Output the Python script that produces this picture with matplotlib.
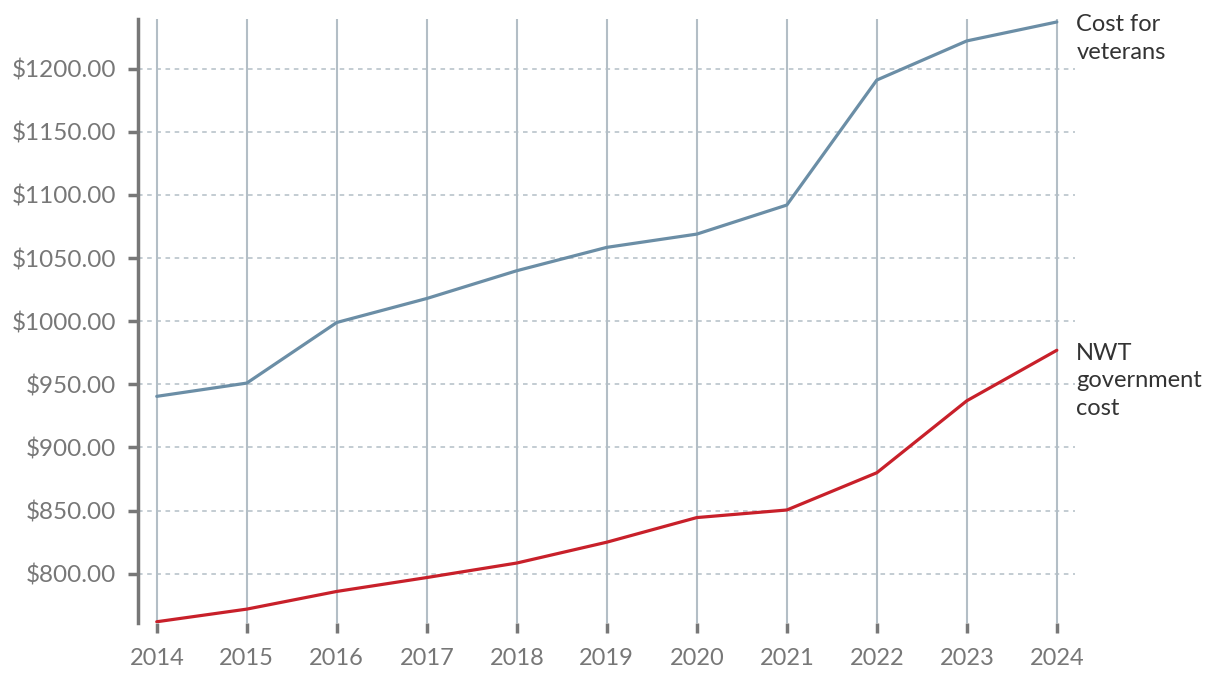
import numpy as np
import matplotlib.pyplot as plt

# data
years = [2014, 2015, 2016, 2017, 2018, 2019, 2020, 2021, 2022, 2023, 2024]
veterans = [940.5, 951, 999, 1018, 1040, 1058.5, 1069, 1092, 1191, 1222, 1237]
nwt = [762, 772, 786, 797, 808.5, 825, 844.5, 850.5, 880, 937, 977]
yticks = [800, 850, 900, 950, 1000, 1050, 1100, 1150, 1200]

plt.rcParams['font.family'] = ['Lato', 'DejaVu Sans']

fig = plt.figure(figsize=(12.2, 6.82), dpi=100)
ax = fig.add_axes([0.113, 0.0865, 0.768, 0.885])

grid_c = '#b3bec6'
for yr in years:
    ax.axvline(yr, color=grid_c, lw=1.5, zorder=1)
for v in yticks:
    ax.axhline(v, color=grid_c, lw=1.1, ls=(0, (3, 3)), zorder=1)

ax.plot(years, veterans, color='#6b8ea6', lw=2.3, zorder=3, solid_capstyle='round')
ax.plot(years, nwt, color='#c8202a', lw=2.3, zorder=3, solid_capstyle='round')

ax.set_xlim(2013.79, 2024.2)
ax.set_ylim(761, 1239)

ax.set_xticks(years)
ax.set_yticks(yticks)
ax.set_yticklabels(['${:.2f}'.format(v) for v in yticks])

for s in ['top', 'right', 'bottom']:
    ax.spines[s].set_visible(False)
ax.spines['left'].set_color('#777777')
ax.spines['left'].set_linewidth(2.5)

ax.tick_params(axis='x', length=7, width=2.5, color='#777777', labelcolor='#777777',
               labelsize=17, pad=11)
ax.tick_params(axis='y', length=7, width=2.5, color='#777777', labelcolor='#777777',
               labelsize=17.5, pad=8.5)

ax.annotate('Cost for\nveterans', xy=(years[-1], veterans[-1]), xytext=(14, 5.5),
            textcoords='offset points', ha='left', va='top', fontsize=17,
            color='#333333', linespacing=1.4, annotation_clip=False)
ax.annotate('NWT\ngovernment\ncost', xy=(years[-1], nwt[-1]), xytext=(14, 5.5),
            textcoords='offset points', ha='left', va='top', fontsize=17,
            color='#333333', linespacing=1.4, annotation_clip=False)

fig.savefig('out.png', dpi=100)
